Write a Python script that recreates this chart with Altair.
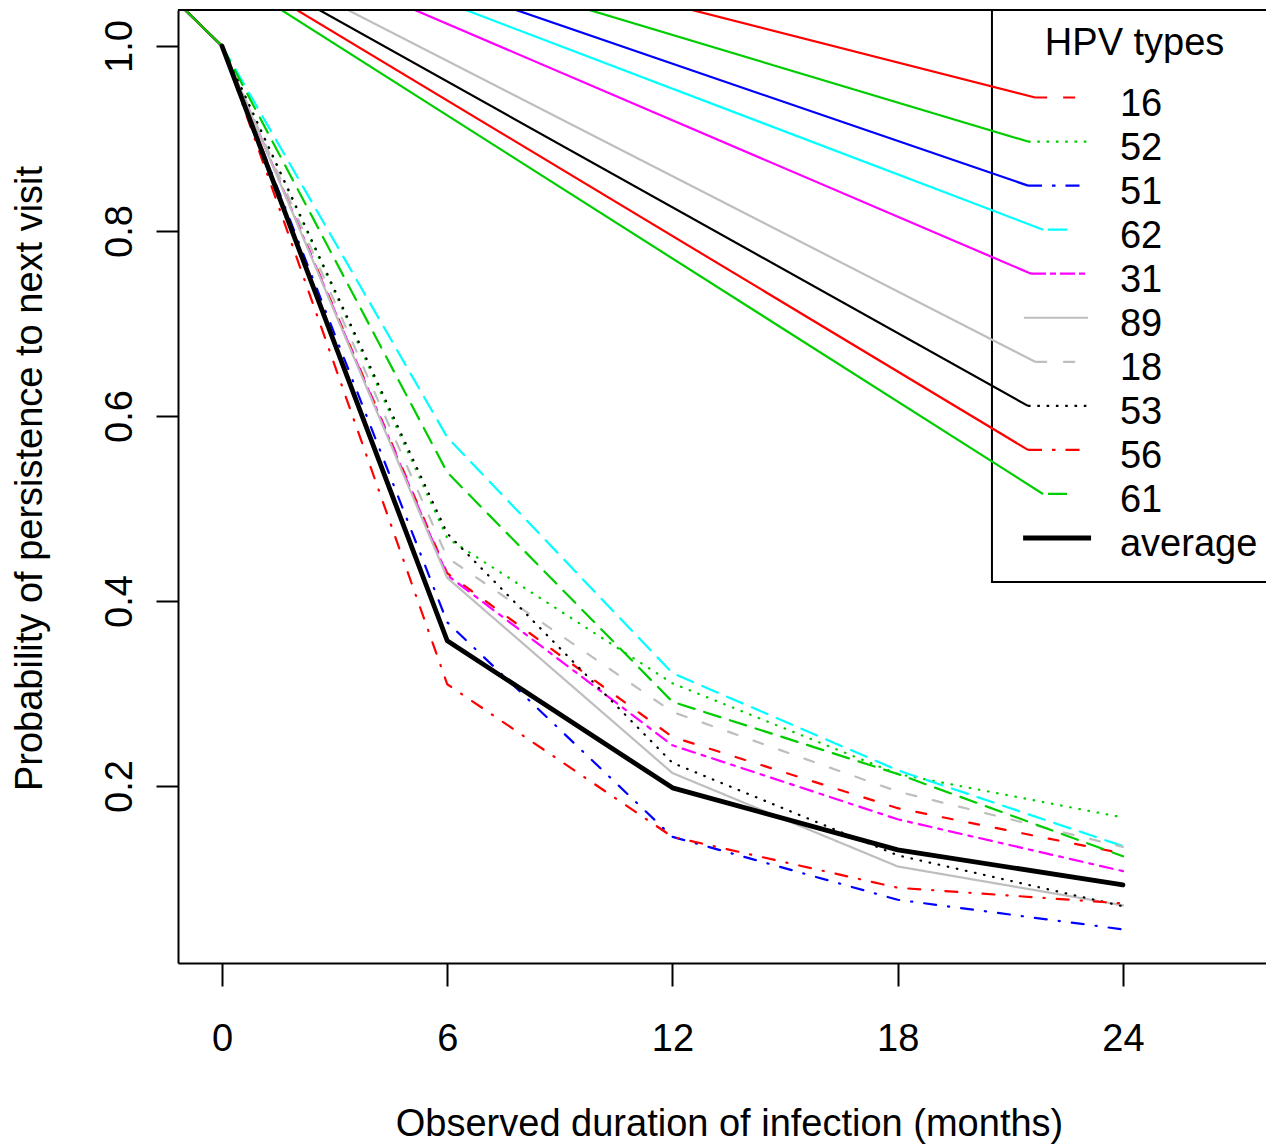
import altair as alt
import pandas as pd

# ---- data -------------------------------------------------------------
months = [0, 6, 12, 18, 24]
hpv_types = ["16", "52", "51", "62", "31", "89", "18", "53", "56", "61"]

p16 = [1.0, 0.430, 0.253, 0.176, 0.127]
p52 = [1.0, 0.468, 0.311, 0.213, 0.166]
p51 = [1.0, 0.377, 0.145, 0.077, 0.045]
p62 = [1.0, 0.577, 0.322, 0.217, 0.135]
p31 = [1.0, 0.428, 0.244, 0.164, 0.108]
p89 = [1.0, 0.425, 0.214, 0.113, 0.071]
p18 = [1.0, 0.447, 0.280, 0.194, 0.134]
p53 = [1.0, 0.473, 0.225, 0.125, 0.070]
p56 = [1.0, 0.310, 0.145, 0.090, 0.073]
p61 = [1.0, 0.539, 0.291, 0.213, 0.124]
p_average = [1.0, 0.357, 0.198, 0.131, 0.093]

series_values = [p16, p52, p51, p62, p31, p89, p18, p53, p56, p61]

x_ticks = [0, 6, 12, 18, 24]
y_ticks = [0.2, 0.4, 0.6, 0.8, 1.0]

# ---- styles -----------------------------------------------------------
FONT = "Liberation Sans"
FS = 38
LW = 2.2
type_colors = ["#FF0000", "#00CD00", "#0000FF", "#00FFFF", "#FF00FF",
               "#BEBEBE", "#BEBEBE", "#000000", "#FF0000", "#00CD00"]
type_lty = ["dashed", "dotted", "dotdash", "longdash", "twodash",
            "solid", "dashed", "dotted", "dotdash", "longdash"]
# dash arrays for round-capped plot lines (caps add one line width per dash)
plot_dash = {"solid": [1, 0], "dashed": [10, 17], "dotted": [0.6, 8.7],
             "dotdash": [12, 12, 1.2, 12], "longdash": [17, 10],
             "twodash": [13, 7, 4, 7]}
# dash arrays for butt-capped legend keys
key_dash = {"solid": [1, 0], "dashed": [12, 16], "dotted": [2.6, 6.7],
            "dotdash": [14, 10, 3.5, 10], "longdash": [0, 5, 19, 40],
            "twodash": [15, 4, 6, 4]}

# ---- layout (data units) ----------------------------------------------
X_DOMAIN = [-1.172, 27.81]
Y_DOMAIN = [0.00865, 1.0389]
PEN_X, PEN_Y = -5.75, 1.228          # common start of the stray pen strokes
LEG_LEFT, LEG_RIGHT, LEG_BOTTOM = 20.51, 28.6, 0.4205
LEG_Y0, LEG_STEP = 0.9443, 0.04762
KEY_END = 23.07
key_start = {"solid": 21.36, "dashed": 21.66, "dotted": 21.47,
             "dotdash": 21.47, "longdash": 21.87, "twodash": 21.55}
LABEL_X = 23.92
TITLE_X, TITLE_Y = 24.31, 0.9903

xs = alt.Scale(domain=X_DOMAIN, nice=False, zero=False)
ys = alt.Scale(domain=Y_DOMAIN, nice=False, zero=False)

x_axis = alt.Axis(values=x_ticks, format="d", grid=False,
                  title="Observed duration of infection (months)",
                  domainColor="black", domainWidth=2,
                  tickColor="black", tickWidth=2, tickSize=23,
                  labelFont=FONT, labelFontSize=FS, labelColor="black",
                  labelBaseline="alphabetic", labelPadding=64,
                  labelFlush=False, labelOverlap=False,
                  titleFont=FONT, titleFontSize=FS, titleFontWeight="normal",
                  titleColor="black", titleX=551, titleY=172,
                  titleAlign="center", titleBaseline="alphabetic")
y_axis = alt.Axis(values=y_ticks, format=".1f", grid=False,
                  title="Probability of persistence to next visit",
                  domainColor="black", domainWidth=2,
                  tickColor="black", tickWidth=2, tickSize=22,
                  labelFont=FONT, labelFontSize=FS, labelColor="black",
                  labelAngle=270, labelAlign="center",
                  labelBaseline="alphabetic", labelPadding=25,
                  labelFlush=False, labelOverlap=False,
                  titleFont=FONT, titleFontSize=FS, titleFontWeight="normal",
                  titleColor="black", titleAngle=270, titleX=-137, titleY=468,
                  titleAlign="center", titleBaseline="alphabetic")

X = alt.X("x:Q", scale=xs, axis=x_axis)
Y = alt.Y("y:Q", scale=ys, axis=y_axis)
color = alt.Color("type:N", scale=alt.Scale(domain=hpv_types, range=type_colors),
                  legend=None)

# ---- tables -----------------------------------------------------------
series_rows, leader_rows = [], []
for t, vals, lty in zip(hpv_types, series_values, type_lty):
    for i, (m, v) in enumerate(zip(months, vals)):
        series_rows.append({"type": t, "x": m, "y": v, "ord": i})
    if lty != "solid":
        leader_rows.append({"type": t, "x": PEN_X, "y": PEN_Y, "ord": 0})
        leader_rows.append({"type": t, "x": months[0], "y": vals[0], "ord": 1})
series_df = pd.DataFrame(series_rows)
leader_df = pd.DataFrame(leader_rows)
avg_df = pd.DataFrame({"x": months, "y": p_average, "ord": range(len(months))})

key_rows, diag_rows = [], []
for i, (t, lty) in enumerate(zip(hpv_types, type_lty)):
    ky = LEG_Y0 - i * LEG_STEP
    key_rows.append({"type": t, "x": key_start[lty], "y": ky, "ord": 0})
    key_rows.append({"type": t, "x": KEY_END, "y": ky, "ord": 1})
    if lty != "solid":
        diag_rows.append({"type": t, "x": PEN_X, "y": PEN_Y, "ord": 0})
        diag_rows.append({"type": t, "x": key_start[lty], "y": ky, "ord": 1})
key_df = pd.DataFrame(key_rows)
diag_df = pd.DataFrame(diag_rows)
avg_y = LEG_Y0 - len(hpv_types) * LEG_STEP
avg_key_df = pd.DataFrame({"x": [21.34, 23.15], "y": [avg_y, avg_y], "ord": [0, 1]})
label_df = pd.DataFrame({
    "x": [LABEL_X] * (len(hpv_types) + 1),
    "y": [LEG_Y0 - i * LEG_STEP for i in range(len(hpv_types) + 1)],
    "label": hpv_types + ["average"],
})
box_df = pd.DataFrame({"x": [LEG_LEFT], "x2": [LEG_RIGHT],
                       "y": [LEG_BOTTOM], "y2": [Y_DOMAIN[1]]})
title_df = pd.DataFrame({"x": [TITLE_X], "y": [TITLE_Y], "label": ["HPV types"]})

# ---- layers -----------------------------------------------------------
solid_kw = dict(strokeWidth=LW, clip=True, strokeJoin="round")

leaders = alt.Chart(leader_df).mark_line(**solid_kw).encode(
    x=X, y=Y, color=color, detail="type:N", order="ord:Q")

series = alt.Chart(series_df).mark_line(
    strokeWidth=LW, clip=True, strokeJoin="round", strokeCap="round").encode(
    x=X, y=Y, color=color, order="ord:Q",
    strokeDash=alt.StrokeDash("type:N", legend=None, scale=alt.Scale(
        domain=hpv_types, range=[plot_dash[l] for l in type_lty])))

average = alt.Chart(avg_df).mark_line(
    color="black", strokeWidth=4.8, clip=True, strokeJoin="round",
    strokeCap="round").encode(x=X, y=Y, order="ord:Q")

box = alt.Chart(box_df).mark_rect(
    fill="white", stroke="black", strokeWidth=2, clip=True).encode(
    x=X, x2="x2:Q", y=Y, y2="y2:Q")

keys = alt.Chart(key_df).mark_line(**solid_kw).encode(
    x=X, y=Y, color=color, order="ord:Q",
    strokeDash=alt.StrokeDash("type:N", legend=None, scale=alt.Scale(
        domain=hpv_types, range=[key_dash[l] for l in type_lty])))

diagonals = alt.Chart(diag_df).mark_line(**solid_kw).encode(
    x=X, y=Y, color=color, detail="type:N", order="ord:Q")

avg_key = alt.Chart(avg_key_df).mark_line(
    color="black", strokeWidth=4.8, clip=True).encode(x=X, y=Y, order="ord:Q")

labels = alt.Chart(label_df).mark_text(
    align="left", baseline="alphabetic", dy=18, font=FONT, fontSize=FS,
    color="black").encode(x=X, y=Y, text="label:N")

leg_title = alt.Chart(title_df).mark_text(
    align="center", baseline="alphabetic", font=FONT, fontSize=FS,
    color="black").encode(x=X, y=Y, text="label:N")

frame_top = alt.Chart(pd.DataFrame({"k": [0]})).mark_rule(
    color="black", strokeWidth=2).encode(
    x=alt.value(0), x2=alt.value(1088), y=alt.value(0))

chart = alt.layer(
    leaders, series, average, box, keys, diagonals, avg_key,
    labels, leg_title, frame_top
).resolve_scale(
    strokeDash="independent"
).properties(
    width=1088, height=953,
    padding={"left": 178, "top": 10, "right": 0, "bottom": 181},
    autosize=alt.AutoSizeParams(type="none"),
    background="white",
).configure_view(strokeWidth=0)

chart.save("out.html", embed_options={"renderer": "svg", "actions": False})
